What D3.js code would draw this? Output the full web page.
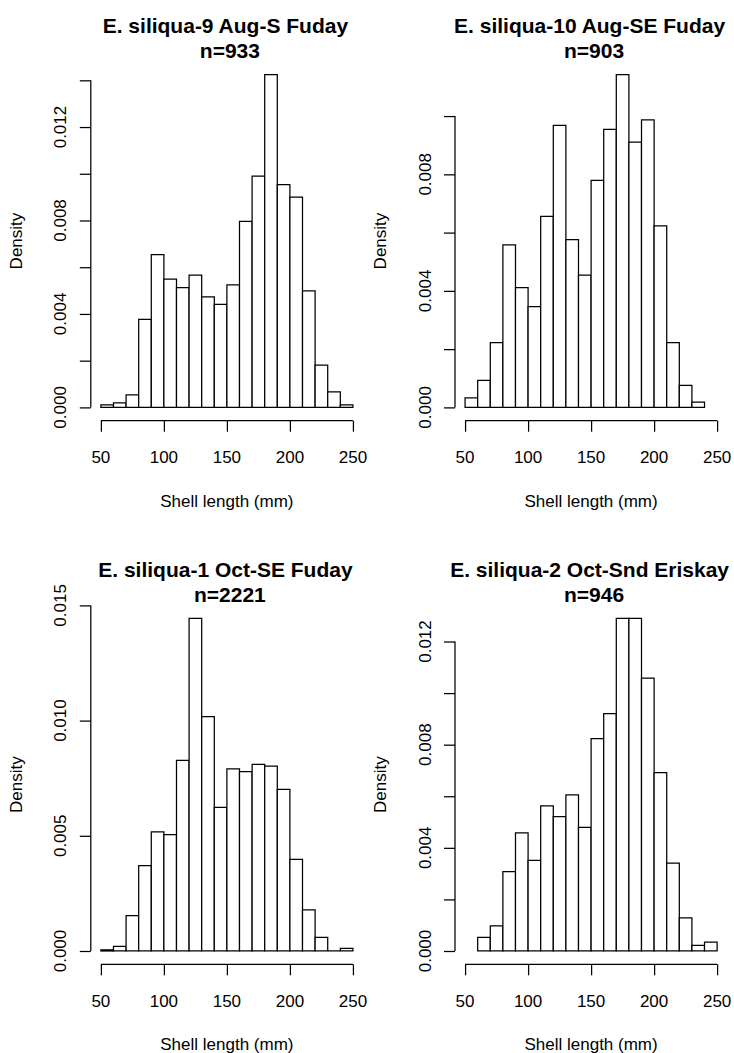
<!DOCTYPE html>
<html>
<head>
<meta charset="utf-8">
<script src="https://cdn.jsdelivr.net/npm/d3@7"></script>
<style>
  html, body { margin: 0; padding: 0; background: #fff; }
  svg { display: block; }
  text { font-family: "Liberation Sans", Arial, Helvetica, sans-serif; fill: #000; }
</style>
</head>
<body>
<svg id="chart" width="734" height="1053"></svg>
<script>
// Histogram bin edges (shell length, mm); each bar spans edge[i]..edge[i+1]
const binEdges = [50, 60, 70, 80, 90, 100, 110, 120, 130, 140, 150,
                  160, 170, 180, 190, 200, 210, 220, 230, 240, 250];

// Density per bin (null = bin outside the sample's range)
const densAug9 = [0.000107, 0.000190, 0.000540, 0.003770, 0.006540, 0.005490, 0.005130, 0.005660, 0.004730, 0.004410,
                  0.005240, 0.007960, 0.009900, 0.014240, 0.009540, 0.009000, 0.004990, 0.001810, 0.000660, 0.000107];
const densAug10 = [0.000330, 0.000930, 0.002220, 0.005580, 0.004110, 0.003460, 0.006560, 0.009680, 0.005760, 0.004540,
                   0.007790, 0.009540, 0.011420, 0.009110, 0.009870, 0.006230, 0.002220, 0.000760, 0.000180, null];
const densOct1 = [0.000050, 0.000200, 0.001540, 0.003710, 0.005170, 0.005050, 0.008270, 0.014440, 0.010170, 0.006230,
                  0.007910, 0.007790, 0.008100, 0.008020, 0.007010, 0.003980, 0.001790, 0.000590, 0.000000, 0.000110];
const densOct2 = [null, 0.000530, 0.000970, 0.003080, 0.004580, 0.003510, 0.005630, 0.005210, 0.006050, 0.004790,
                  0.008230, 0.009200, 0.012900, 0.012900, 0.010580, 0.006920, 0.003410, 0.001280, 0.000220, 0.000340];

// Panel titles
const titles = ["E. siliqua-9 Aug-S Fuday", "E. siliqua-10 Aug-SE Fuday",
                "E. siliqua-1 Oct-SE Fuday", "E. siliqua-2 Oct-Snd Eriskay"];
const sampleSizes = ["n=933", "n=903", "n=2221", "n=946"];

// Axis ticks
const xTicks = [50, 100, 150, 200, 250];
const yTicksAug9 = [0, 0.002, 0.004, 0.006, 0.008, 0.010, 0.012, 0.014];
const yLabelsAug9 = [0, 0.004, 0.008, 0.012];
const yTicksAug10 = [0, 0.002, 0.004, 0.006, 0.008, 0.010];
const yLabelsAug10 = [0, 0.004, 0.008];
const yTicksOct1 = [0, 0.005, 0.010, 0.015];
const yLabelsOct1 = [0, 0.005, 0.010, 0.015];
const yTicksOct2 = [0, 0.002, 0.004, 0.006, 0.008, 0.010, 0.012];
const yLabelsOct2 = [0, 0.004, 0.008, 0.012];

const xLabel = "Shell length (mm)";
const yLabel = "Density";

const panels = [
  { title: titles[0], n: sampleSizes[0], dens: densAug9,  yTicks: yTicksAug9,  yLabels: yLabelsAug9,  col: 0, row: 0 },
  { title: titles[1], n: sampleSizes[1], dens: densAug10, yTicks: yTicksAug10, yLabels: yLabelsAug10, col: 1, row: 0 },
  { title: titles[2], n: sampleSizes[2], dens: densOct1,  yTicks: yTicksOct1,  yLabels: yLabelsOct1,  col: 0, row: 1 },
  { title: titles[3], n: sampleSizes[3], dens: densOct2,  yTicks: yTicksOct2,  yLabels: yLabelsOct2,  col: 1, row: 1 }
];

// Layout of the 2x2 grid of plot regions
const colX = [90.8, 455.0];
const rowY = [61.4, 605.0];
const plotW = 272.2;
const plotH = 359.3;
const tickLen = 11;
const axisFont = 17;
const titleFont = 21;
const lw = 1.25;

const svg = d3.select("#chart");
svg.append("rect").attr("width", 734).attr("height", 1053).attr("fill", "#fff");

panels.forEach(p => {
  const left = colX[p.col], top = rowY[p.row];
  const right = left + plotW, bottom = top + plotH;

  // x extends 4% beyond the outer bin edges, y 4% beyond [0, max]
  const xMin = binEdges[0], xMax = binEdges[binEdges.length - 1];
  const xPad = (xMax - xMin) * 0.04;
  const x = d3.scaleLinear().domain([xMin - xPad, xMax + xPad]).range([left, right]);
  const yMax = d3.max(p.dens.filter(v => v !== null));
  const y = d3.scaleLinear().domain([-0.04 * yMax, 1.04 * yMax]).range([bottom, top]);

  const g = svg.append("g");

  // bars as closed outlines, so an empty bin still shows as a flat line
  const bins = p.dens.map((v, i) => ({ x0: binEdges[i], x1: binEdges[i + 1], v }))
                     .filter(b => b.v !== null);
  g.selectAll("path.bar").data(bins).join("path")
    .attr("class", "bar")
    .attr("d", b => {
      const p0 = d3.path();
      p0.moveTo(x(b.x0), y(0));
      p0.lineTo(x(b.x0), y(b.v));
      p0.lineTo(x(b.x1), y(b.v));
      p0.lineTo(x(b.x1), y(0));
      p0.closePath();
      return p0.toString();
    })
    .attr("fill", "#fff")
    .attr("stroke", "#000")
    .attr("stroke-width", lw);

  // x axis at the bottom edge of the plot region
  const xAxis = d3.axisBottom(x).tickValues(xTicks).tickSize(tickLen).tickFormat("");
  const gx = g.append("g").attr("transform", `translate(0,${bottom})`).call(xAxis);
  gx.select(".domain").remove();
  gx.selectAll(".tick line").attr("stroke", "#000").attr("stroke-width", lw);
  gx.append("line")
    .attr("x1", x(xTicks[0])).attr("x2", x(xTicks[xTicks.length - 1]))
    .attr("y1", 0).attr("y2", 0)
    .attr("stroke", "#000").attr("stroke-width", lw);
  gx.selectAll("text.xl").data(xTicks).join("text")
    .attr("class", "xl")
    .attr("x", d => x(d))
    .attr("y", 42.6)
    .attr("text-anchor", "middle")
    .attr("font-size", axisFont)
    .text(d => d);

  // y axis at the left edge of the plot region
  const yAxis = d3.axisLeft(y).tickValues(p.yTicks).tickSize(tickLen).tickFormat("");
  const gy = g.append("g").attr("transform", `translate(${left},0)`).call(yAxis);
  gy.select(".domain").remove();
  gy.selectAll(".tick line").attr("stroke", "#000").attr("stroke-width", lw);
  gy.append("line")
    .attr("x1", 0).attr("x2", 0)
    .attr("y1", y(p.yTicks[0])).attr("y2", y(p.yTicks[p.yTicks.length - 1]))
    .attr("stroke", "#000").attr("stroke-width", lw);
  gy.selectAll("text.yl").data(p.yLabels).join("text")
    .attr("class", "yl")
    .attr("transform", d => `translate(-24.5,${y(d)}) rotate(-90)`)
    .attr("text-anchor", "middle")
    .attr("font-size", axisFont)
    .text(d => d3.format(".3f")(d));

  // axis titles
  g.append("text")
    .attr("x", (left + right) / 2)
    .attr("y", bottom + 86)
    .attr("text-anchor", "middle")
    .attr("font-size", axisFont)
    .text(xLabel);
  g.append("text")
    .attr("transform", `translate(${left - 69},${(top + bottom) / 2}) rotate(-90)`)
    .attr("text-anchor", "middle")
    .attr("font-size", axisFont)
    .text(yLabel);

  // two-line main title
  const cx = (left + right) / 2;
  g.append("text")
    .attr("x", cx - 1.5).attr("y", top - 28.1)
    .attr("text-anchor", "middle")
    .attr("font-size", titleFont).attr("font-weight", "bold")
    .text(p.title);
  g.append("text")
    .attr("x", cx + 3).attr("y", top - 3.1)
    .attr("text-anchor", "middle")
    .attr("font-size", titleFont).attr("font-weight", "bold")
    .text(p.n);
});
</script>
</body>
</html>
